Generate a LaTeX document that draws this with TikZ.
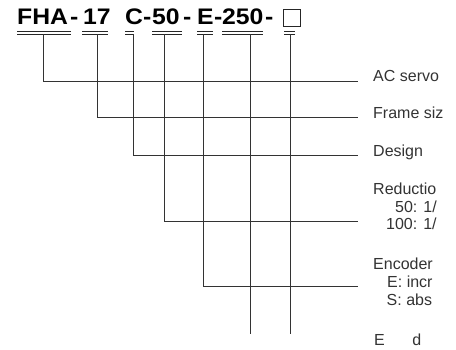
\documentclass[tikz,border=0pt]{standalone}
\usepackage{fontspec}
\setmainfont{Liberation Sans}
\usetikzlibrary{positioning}
\newcommand{\widecode}[1]{\scalebox{1.1}[1]{#1}}

\begin{document}
\begin{tikzpicture}[x=1pt, y=-1pt,
        code/.style={inner sep=0pt, anchor=base west, text=black, font=\bfseries\fontsize{22.5}{22.5}\selectfont},
        optbox/.style={draw=black!85, line width=0.7pt, minimum width=17pt, minimum height=16.5pt, inner sep=0pt},
        tag/.style={inner sep=0pt, anchor=base west, text=black!80, font=\fontsize{16}{17.5}\selectfont},
        uline/.style={draw=black!85, line width=0.9pt, double=white, double distance=1.7pt},
        lead/.style={draw=black!80, line width=0.8pt}
    ]
        \useasboundingbox (0,0) rectangle (456,350);

        % Codigo del modelo (baseline y = 25)
        \node [code] (fha) at (17,25) {\widecode{FHA}};
        \node [code] (d1) at (70,25) {\widecode{-}};
        \node [code] (size) at (83,25) {\widecode{17}};
        \node [code] (design) at (125,25) {\widecode{C}};
        \node [code] (d2) at (143,25) {\widecode{-}};
        \node [code] (ratio) at (152,25) {\widecode{50}};
        \node [code] (d3) at (183,25) {\widecode{-}};
        \node [code] (enc) at (197,25) {\widecode{E}};
        \node [code] (d4) at (214,25) {\widecode{-}};
        \node [code] (v250) at (222,25) {\widecode{250}};
        \node [code] (d5) at (265,25) {\widecode{-}};
        \node [optbox] (opt) at (291.5,18) {};

        % Doble subrayado (y = 33)
        \draw [uline] (17,33) -- (71,33);
        \draw [uline] (82,33) -- (108,33);
        \draw [uline] (125,33) -- (134,33);
        \draw [uline] (152,33) -- (182,33);
        \draw [uline] (197,33) -- (213,33);
        \draw [uline] (222,33) -- (263,33);
        \draw [uline] (284,33) -- (295,33);

        % Puntos de salida bajo el subrayado
        \coordinate (t-fha) at (43.5,34.5);
        \coordinate (t-size) at (97.5,34.5);
        \coordinate (t-design) at (133.5,34.5);
        \coordinate (t-ratio) at (164.5,34.5);
        \coordinate (t-enc) at (203.5,34.5);
        \coordinate (t-v250) at (250.5,34.5);
        \coordinate (t-opt) at (290.5,34.5);

        % Extremos de las lineas (x = 358)
        \coordinate (e-servo) at (358,81);
        \coordinate (e-frame) at (358,117);
        \coordinate (e-design) at (358,155);
        \coordinate (e-ratio) at (358,221);
        \coordinate (e-enc) at (358,286.5);
        \coordinate (b-v250) at (250.5,334);
        \coordinate (b-opt) at (290.5,334);

        \draw [lead] (t-fha) |- (e-servo);
        \draw [lead] (t-size) |- (e-frame);
        \draw [lead] (t-design) |- (e-design);
        \draw [lead] (t-ratio) |- (e-ratio);
        \draw [lead] (t-enc) |- (e-enc);
        \draw [lead] (t-v250) -- (b-v250);
        \draw [lead] (t-opt) -- (b-opt);

        % Textos de la derecha (x = 373)
        \node [tag] (servo) at (373,82) {AC servo};
        \node [tag] (frame) at (373,118.5) {Frame siz};
        \node [tag] (dsgn) at (373,157) {Design};
        \node [tag] (redu) at (373,195) {Reductio};
        \node [tag] (redu50) at (373,212.5) {\hspace*{22pt}50: 1/};
        \node [tag] (redu100) at (373,230) {\hspace*{13pt}100: 1/};
        \node [tag] (encoder) at (373,270) {Encoder};
        \node [tag] (encinc) at (373,288) {\hspace*{14pt}E: incr};
        \node [tag] (encabs) at (373,306) {\hspace*{13.5pt}S: abs};
        \node [tag] (ext) at (374,346) {E\hspace*{27.5pt}d};

    \end{tikzpicture}
\end{document}
